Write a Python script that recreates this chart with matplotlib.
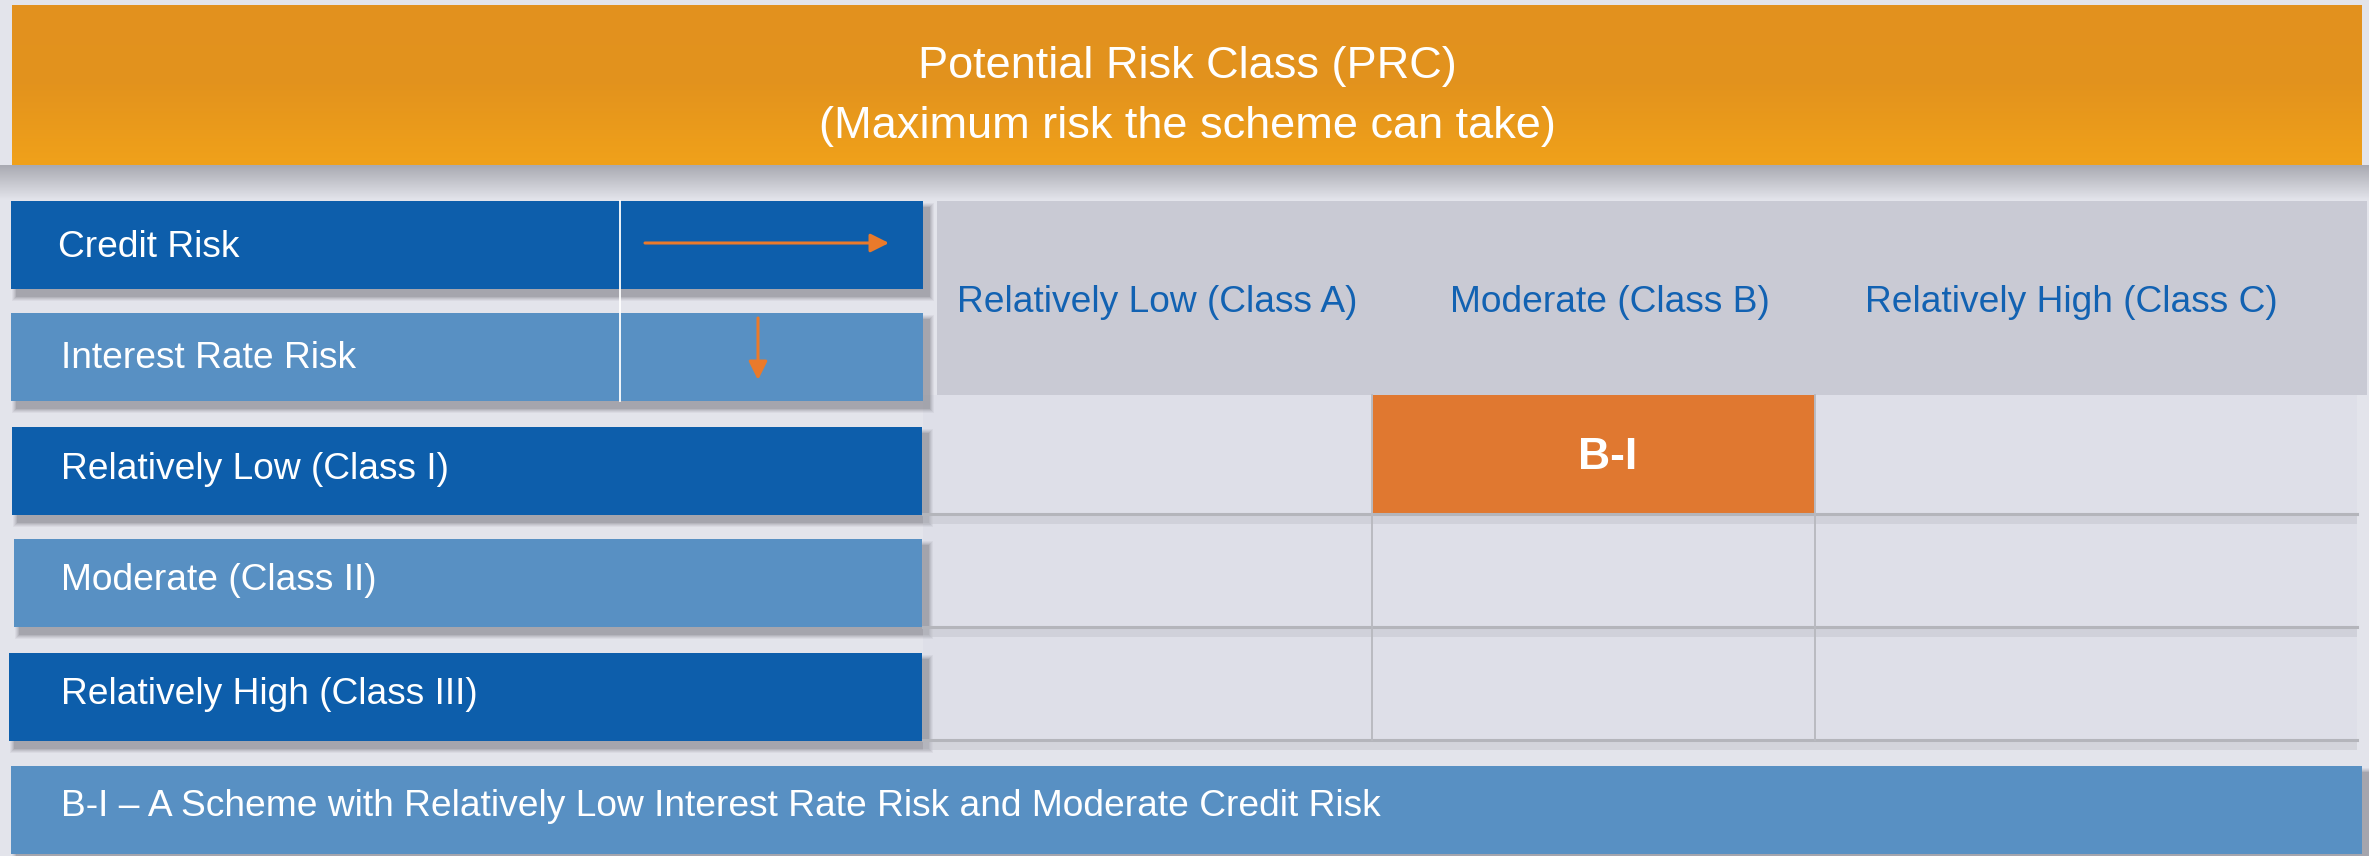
import matplotlib
matplotlib.use("Agg")
import matplotlib.pyplot as plt
import numpy as np
from matplotlib.patches import Rectangle

plt.rcParams['font.family'] = ['Liberation Sans', 'DejaVu Sans']

# ---- content ----
title_lines = ["Potential Risk Class (PRC)", "(Maximum risk the scheme can take)"]
axis_labels = ["Credit Risk", "Interest Rate Risk"]
col_labels = ["Relatively Low (Class A)", "Moderate (Class B)", "Relatively High (Class C)"]
row_labels = ["Relatively Low (Class I)", "Moderate (Class II)", "Relatively High (Class III)"]
highlight_row = 0
highlight_col = 1
highlight_text = "B-I"
footnote = "B-I \u2013 A Scheme with Relatively Low Interest Rate Risk and Moderate Credit Risk"

# ---- layout (pixels) ----
W, H = 2369, 856
DARK = "#0d5eab"
LIGHT = "#5890c3"
ORANGE = "#e07830"
HDR_GRAY = "#c9cad4"
CELL = "#dedfe8"
BG = "#e3e4eb"
COLTXT = "#1262b2"
FS = 26.7

fig = plt.figure(figsize=(W / 100, H / 100), dpi=100)
ax = fig.add_axes([0, 0, 1, 1])
ax.set_xlim(0, W)
ax.set_ylim(H, 0)
ax.axis("off")
fig.patch.set_facecolor(BG)

def shadow(x, y, w, h, dx=6, dy=7, z=1):
    for i, a in enumerate([0.06, 0.07, 0.09, 0.11, 0.14]):
        s = 5 - i
        ax.add_patch(Rectangle((x + dx - s, y + dy - s), w + 2 * s, h + 2 * s,
                               facecolor="#4a4a52", alpha=a, lw=0, zorder=z))

def box(x, y, w, h, color, z=3, sh=True):
    if sh:
        shadow(x, y, w, h, z=z - 1)
    ax.add_patch(Rectangle((x, y), w, h, facecolor=color, lw=0, zorder=z))

# background band below header (soft gray gradient)
grad_bg = np.linspace(0, 1, 60).reshape(-1, 1)
ax.imshow(grad_bg, extent=(0, W, 200, 165), cmap=matplotlib.colors.LinearSegmentedColormap.from_list(
    "g", ["#a9aab2", "#c6c7ce", BG]), aspect="auto", zorder=0.5)

# header with gradient
hdr_cmap = matplotlib.colors.LinearSegmentedColormap.from_list("o", ["#e2911f", "#e3931d", "#f0a11a"])
grad = np.linspace(0, 1, 100).reshape(-1, 1)
ax.imshow(grad, extent=(12, 2362, 165, 5), cmap=hdr_cmap, aspect="auto", zorder=3)
ax.text(1187, 66, title_lines[0], ha="center", va="center", color="white", fontsize=32.5, zorder=5)
ax.text(1187, 126, title_lines[1], ha="center", va="center", color="white", fontsize=32.5, zorder=5)

# column header gray region
ax.add_patch(Rectangle((937, 201), 1430, 194, facecolor=HDR_GRAY, lw=0, zorder=2))
col_x = [1157, 1610, 2071]
for cx, lab in zip(col_x, col_labels):
    ax.text(cx, 302, lab, ha="center", va="center", color=COLTXT, fontsize=FS, zorder=5)

# grid cells
grid_x = [923, 1372, 1815, 2357]
grid_y = [395, 514, 627, 740]
ax.add_patch(Rectangle((grid_x[0], grid_y[0]), grid_x[-1] - grid_x[0], grid_y[-1] - grid_y[0],
                       facecolor=CELL, lw=0, zorder=2))
for r in range(3):
    for c in range(3):
        if r == highlight_row and c == highlight_col:
            ax.add_patch(Rectangle((grid_x[c], grid_y[r]), grid_x[c + 1] - grid_x[c],
                                   grid_y[r + 1] - grid_y[r], facecolor=ORANGE, lw=0, zorder=3))
            ax.text((grid_x[c] + grid_x[c + 1]) / 2 + 14, (grid_y[r] + grid_y[r + 1]) / 2 + 3,
                    highlight_text, ha="center", va="center", color="white",
                    fontsize=32, fontweight="bold", zorder=5)
for yy in grid_y[1:]:
    ax.plot([grid_x[0], grid_x[-1]], [yy, yy], color="#b4b5bb", lw=2.2, zorder=4)
    ax.add_patch(Rectangle((grid_x[0], yy + 2), grid_x[-1] - grid_x[0], 8,
                           facecolor="#c4c5cd", alpha=0.5, lw=0, zorder=2.5))
for xx in grid_x[1:3]:
    ax.plot([xx, xx], [grid_y[0], grid_y[-1]], color="#b9bac0", lw=1.4, zorder=4)

# left axis-label boxes
box(11, 201, 912, 88, DARK)
box(11, 313, 912, 88, LIGHT)
ax.text(58, 247, axis_labels[0], ha="left", va="center", color="white", fontsize=FS, zorder=5)
ax.text(61, 358, axis_labels[1], ha="left", va="center", color="white", fontsize=FS, zorder=5)
ax.plot([620, 620], [201, 401], color="white", lw=1.3, zorder=5)
arrow_style = "-|>,head_length=0.8,head_width=0.4"
ax.annotate("", xy=(889, 243), xytext=(645, 243), zorder=6,
            arrowprops=dict(arrowstyle=arrow_style, color="#ea7a2b",
                            lw=2.2, shrinkA=0, shrinkB=0, mutation_scale=14))
ax.annotate("", xy=(758, 380), xytext=(758, 318), zorder=6,
            arrowprops=dict(arrowstyle=arrow_style, color="#ea7a2b",
                            lw=2.2, shrinkA=0, shrinkB=0, mutation_scale=14))

# row label boxes
row_y = [427, 539, 653]
row_x = [12, 14, 9]
row_col = [DARK, LIGHT, DARK]
for rx, ry, rc, lab in zip(row_x, row_y, row_col, row_labels):
    box(rx, ry, 922 - rx, 88, rc)
    ax.text(61, ry + 42, lab, ha="left", va="center", color="white", fontsize=FS, zorder=5)

# footnote box
box(11, 766, 2351, 88, LIGHT, sh=True)
ax.text(61, 806, footnote, ha="left", va="center", color="white", fontsize=FS, zorder=5)

fig.savefig("out.png", dpi=100, facecolor=BG)
